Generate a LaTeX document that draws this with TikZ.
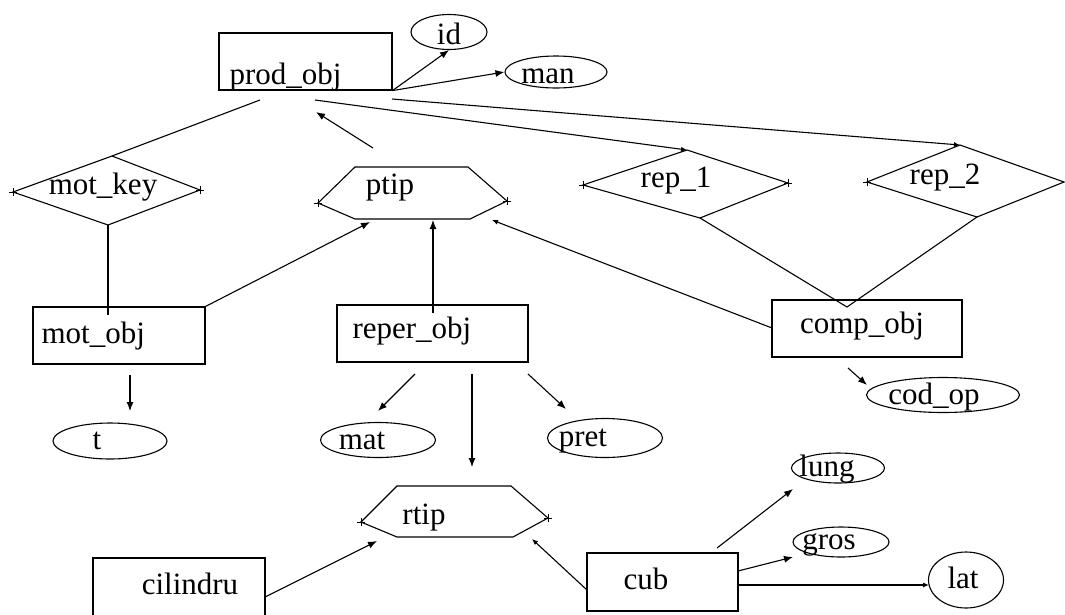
\documentclass[tikz,border=0pt]{standalone}
\usepackage{fontspec}
\setmainfont{Liberation Serif}
\usetikzlibrary{shapes.geometric,shapes.misc,arrows.meta}
\begin{document}
\begin{tikzpicture}[x=1pt,y=-1pt,
  every path/.style={line width=1.1pt},
  txt/.style={font=\fontsize{31}{34}\selectfont, inner sep=0pt, anchor=base},
  txtw/.style={font=\fontsize{31}{34}\selectfont, inner sep=0pt, anchor=base west},
  ent/.style={draw, rectangle, inner sep=0pt, line width=1.1pt},
  attr/.style={draw, ellipse, inner sep=0pt, line width=1.1pt},
  arr/.style={-{Latex[length=9pt,width=7pt]}},
  sarr/.style={-{Latex[length=6pt,width=5pt]}},
  xmk/.style={cross out, draw, minimum size=5pt, inner sep=0pt, line width=0.8pt}]
\useasboundingbox (0,0) rectangle (1065,614);
\fill[white] (0,0) rectangle (1065,614);

% entity rectangles
\node[ent, minimum width=173pt, minimum height=57pt] (prod) at (305.5,61.5) {};
\node[txtw] (prodt) at (229,84) {prod\_obj};
\node[ent, minimum width=172pt, minimum height=57pt] (mot) at (119,335.5) {};
\node[txtw] (mott) at (41,343) {mot\_obj};
\node[ent, minimum width=191pt, minimum height=57pt] (reper) at (432.5,333.5) {};
\node[txtw] (repert) at (352,338) {reper\_obj};
\node[ent, minimum width=190pt, minimum height=57pt] (comp) at (867,328.5) {};
\node[txt] (compt) at (862,333) {comp\_obj};
\node[ent, minimum width=172pt, minimum height=62pt] (cil) at (179,589) {};
\node[txt] (cilt) at (190,594) {cilindru};
\node[ent, minimum width=151pt, minimum height=58pt] (cub) at (662.5,582) {};
\node[txt] (cubt) at (646,589) {cub};

% attribute ellipses
\node[attr, minimum width=76pt, minimum height=35pt] (id) at (449,32) {};
\node[txt] (idt) at (449,44) {id};
\node[attr, minimum width=102pt, minimum height=32pt] (man) at (556,72) {};
\node[txt] (mant) at (548,83) {man};
\node[attr, minimum width=114pt, minimum height=36pt] (t) at (110,441) {};
\node[txt] (tt) at (97,449) {t};
\node[attr, minimum width=115pt, minimum height=35pt] (mat) at (378,440) {};
\node[txt] (matt) at (362,449) {mat};
\node[attr, minimum width=115pt, minimum height=39pt] (pret) at (605,438) {};
\node[txt] (prett) at (583,446) {pret};
\node[attr, minimum width=153pt, minimum height=35pt] (cod) at (943,395) {};
\node[txt] (codt) at (934,404) {cod\_op};
\node[attr, minimum width=93pt, minimum height=30pt] (lung) at (838,468) {};
\node[txt] (lungt) at (827,476) {lung};
\node[attr, minimum width=96pt, minimum height=30pt] (gros) at (841,542) {};
\node[txt] (grost) at (829,549) {gros};
\node[attr, minimum width=75pt, minimum height=56pt] (lat) at (966,580) {};
\node[txt] (latt) at (963,588) {lat};

% diamonds
\coordinate (mkT) at (112,156); \coordinate (mkR) at (200,190);
\coordinate (mkB) at (108,225); \coordinate (mkL) at (13,192);
\draw (mkT) -- (mkR) -- (mkB) -- (mkL) -- cycle;
\node[txt] (mkt) at (103,194) {mot\_key};

\coordinate (r1T) at (687,150); \coordinate (r1R) at (788,183);
\coordinate (r1B) at (700,218); \coordinate (r1L) at (583,185);
\draw (r1T) -- (r1R) -- (r1B) -- (r1L) -- cycle;
\node[txt] (r1t) at (676,187) {rep\_1};

\coordinate (r2T) at (960,145); \coordinate (r2R) at (1064,182);
\coordinate (r2B) at (977,217); \coordinate (r2L) at (867,182);
\draw (r2T) -- (r2R) -- (r2B) -- (r2L) -- cycle;
\node[txt] (r2t) at (945,184) {rep\_2};

% hexagons
\coordinate (ptL) at (318,203); \coordinate (ptTL) at (355,167);
\coordinate (ptTR) at (468,167); \coordinate (ptR) at (507,201);
\coordinate (ptBR) at (470,219); \coordinate (ptBL) at (355,219);
\draw (ptL) -- (ptTL) -- (ptTR) -- (ptR) -- (ptBR) -- (ptBL) -- cycle;
\node[txt] (ptt) at (390,194) {ptip};

\coordinate (rtL) at (361,522); \coordinate (rtTL) at (397,486);
\coordinate (rtTR) at (511,486); \coordinate (rtR) at (548,518);
\coordinate (rtBR) at (513,537); \coordinate (rtBL) at (397,537);
\draw (rtL) -- (rtTL) -- (rtTR) -- (rtR) -- (rtBR) -- (rtBL) -- cycle;
\node[txt] (rtt) at (424,524) {rtip};

% small connection marks
\foreach \p/\n in {mkL/m1,mkR/m2,ptL/m3,ptR/m4,r1L/m5,r1R/m6,r2L/m7,rtL/m8,rtR/m9}
  \node[xmk, rotate=45] (\n) at (\p) {};

% connector end points
\coordinate (p1) at (260,100);
\coordinate (p2) at (315,100);
\coordinate (p3) at (392,99);
\coordinate (p4) at (316,112);
\coordinate (p5) at (373,148);
\coordinate (mkIn) at (108,315);
\coordinate (ptA) at (370,222);
\coordinate (ptB) at (433,220);
\coordinate (ptC) at (492,220);
\coordinate (repUp) at (433,313);
\coordinate (compL) at (772,328);
\coordinate (compV) at (847,307);
\coordinate (c1) at (848,368); \coordinate (c2) at (867,385);
\coordinate (m1s) at (130,375); \coordinate (m1e) at (130,411);
\coordinate (r1s) at (415,374); \coordinate (r1e) at (378,411);
\coordinate (r2s) at (472,374); \coordinate (r2e) at (472,467);
\coordinate (r3s) at (528,374); \coordinate (r3e) at (566,409);
\coordinate (cilR) at (265,597); \coordinate (rtA) at (377,541);
\coordinate (cubL) at (587,590); \coordinate (rtB) at (532,539);
\coordinate (cu1) at (717,548); \coordinate (lungA) at (793,489);
\coordinate (cu2) at (738,571); \coordinate (grosA) at (793,557);
\coordinate (cu3) at (738,585); \coordinate (latW) at (929,585);

% connectors
\draw[arr] (prod.south east) -- (id.south);
\draw[arr] (prod.south east) -- (man.west);
\draw (p1) -- (mkT);
\draw[arr] (p5) -- (p4);
\draw[sarr] (p2) -- (r1T);
\draw[sarr] (p3) -- (r2T);
\draw (mkB) -- (mkIn);
\draw[arr] (mot.north east) -- (ptA);
\draw[arr] (repUp) -- (ptB);
\draw[sarr] (compL) -- (ptC);
\draw (r1B) -- (compV) -- (r2B);
\draw[arr] (c1) -- (c2);
\draw[arr] (m1s) -- (m1e);
\draw[arr] (r1s) -- (r1e);
\draw[arr] (r2s) -- (r2e);
\draw[arr] (r3s) -- (r3e);
\draw[arr] (cilR) -- (rtA);
\draw[sarr] (cubL) -- (rtB);
\draw[arr] (cu1) -- (lungA);
\draw[arr] (cu2) -- (grosA);
\draw[sarr] (cu3) -- (latW);
\end{tikzpicture}
\end{document}
